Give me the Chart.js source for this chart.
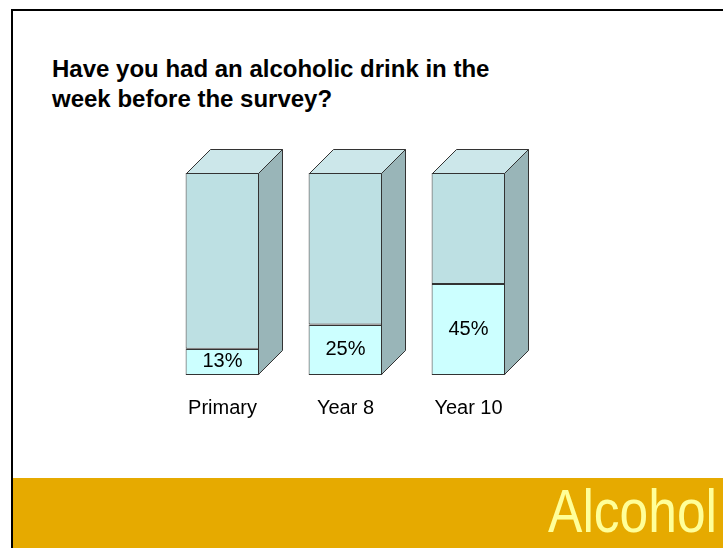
<!DOCTYPE html>
<html>
<head>
<meta charset="utf-8">
<script src="https://cdn.jsdelivr.net/npm/chart.js@4.4.1/dist/chart.umd.min.js"></script>
<style>
  body { margin: 0; width: 723px; height: 548px; overflow: hidden; background: #fff; position: relative;
         font-family: "Liberation Sans", Arial, sans-serif; }
  #frame { position: absolute; left: 11px; top: 9px; width: 800px; height: 600px;
           border-left: 2px solid #000; border-top: 2px solid #000; }
  #title { position: absolute; left: 52px; top: 54px; font-weight: bold; font-size: 24px;
           line-height: 30px; color: #000; white-space: nowrap; }
  #band { position: absolute; left: 13px; top: 478px; right: 0; bottom: 0; background: #E6AA00; }
  #topic { position: absolute; right: 6px; top: 481px; font-size: 61px; line-height: 1; color: #FFFF99;
           transform: scaleX(0.845); transform-origin: right top; white-space: nowrap; }
  #myChart { position: absolute; left: 0; top: 0; }
</style>
</head>
<body>
<div id="frame"></div>
<div id="title">Have you had an alcoholic drink in the<br>week before the survey?</div>
<div id="band"></div>
<div id="topic">Alcohol</div>
<canvas id="myChart" width="723" height="548"></canvas>
<script>
const groups = ['Primary', 'Year 8', 'Year 10']
const yes = [13, 25, 45]
const no = [87, 75, 55]

// fake 3d: side + top faces next to the front rectangles
const depth = 24
const box3d = {
  id: 'box3d',
  afterDatasetsDraw(chart) {
    const ctx = chart.ctx
    const low = chart.getDatasetMeta(0).data
    const high = chart.getDatasetMeta(1).data
    ctx.save()
    ctx.lineWidth = 1
    ctx.strokeStyle = '#333333'
    low.forEach((el, i) => {
      const l = Math.round(el.x - el.width / 2) + 0.5
      const r = Math.round(el.x + el.width / 2) - 0.5
      const t = Math.round(high[i].y) + 0.5
      const b = Math.round(el.base) - 0.5
      const mid = Math.round(el.y) + 0.5

      // side
      ctx.fillStyle = '#99B5B8'
      ctx.beginPath()
      ctx.moveTo(r, t)
      ctx.lineTo(r + depth, t - depth)
      ctx.lineTo(r + depth, b - depth)
      ctx.lineTo(r, b)
      ctx.closePath()
      ctx.fill()
      ctx.stroke()

      // top
      ctx.fillStyle = '#CCE7EA'
      ctx.beginPath()
      ctx.moveTo(l, t)
      ctx.lineTo(l + depth, t - depth)
      ctx.lineTo(r + depth, t - depth)
      ctx.lineTo(r, t)
      ctx.closePath()
      ctx.fill()
      ctx.stroke()

      // crisp line between the two segments
      ctx.beginPath()
      ctx.moveTo(l, mid)
      ctx.lineTo(r, mid)
      ctx.stroke()

      // value label
      ctx.fillStyle = '#000'
      ctx.font = '20px "Liberation Sans", Arial, sans-serif'
      ctx.textAlign = 'center'
      ctx.textBaseline = 'middle'
      ctx.fillText(yes[i] + '%', el.x, (el.y + el.base) / 2)
    })
    ctx.restore()
  }
}

function createChart() {
  const ctx = document.getElementById('myChart')
  new Chart(ctx, {
    type: 'bar',
    data: {
      labels: groups,
      datasets: [{
        label: 'Yes',
        data: yes,
        backgroundColor: '#CCFFFF',
        borderColor: '#333333',
        borderWidth: 1,
        borderSkipped: false
      }, {
        label: 'No',
        data: no,
        backgroundColor: '#BDE0E3',
        borderColor: '#333333',
        borderWidth: 1,
        borderSkipped: false
      }]
    },
    options: {
      responsive: false,
      animation: false,
      devicePixelRatio: 1,
      layout: { padding: { left: 161, right: 193, top: 173, bottom: 113 } },
      datasets: { bar: { categoryPercentage: 1, barPercentage: 0.6 } },
      plugins: { legend: { display: false }, tooltip: { enabled: false } },
      scales: {
        x: {
          stacked: true,
          grid: { display: false, drawTicks: false },
          border: { display: false },
          ticks: { color: '#000', padding: 21, font: { family: '"Liberation Sans", Arial, sans-serif', size: 20 } },
          afterFit(scale) { scale.height = 60 }
        },
        y: {
          stacked: true,
          display: false,
          min: 0,
          max: 100
        }
      }
    },
    plugins: [box3d]
  })
}

createChart()
</script>
</body>
</html>
